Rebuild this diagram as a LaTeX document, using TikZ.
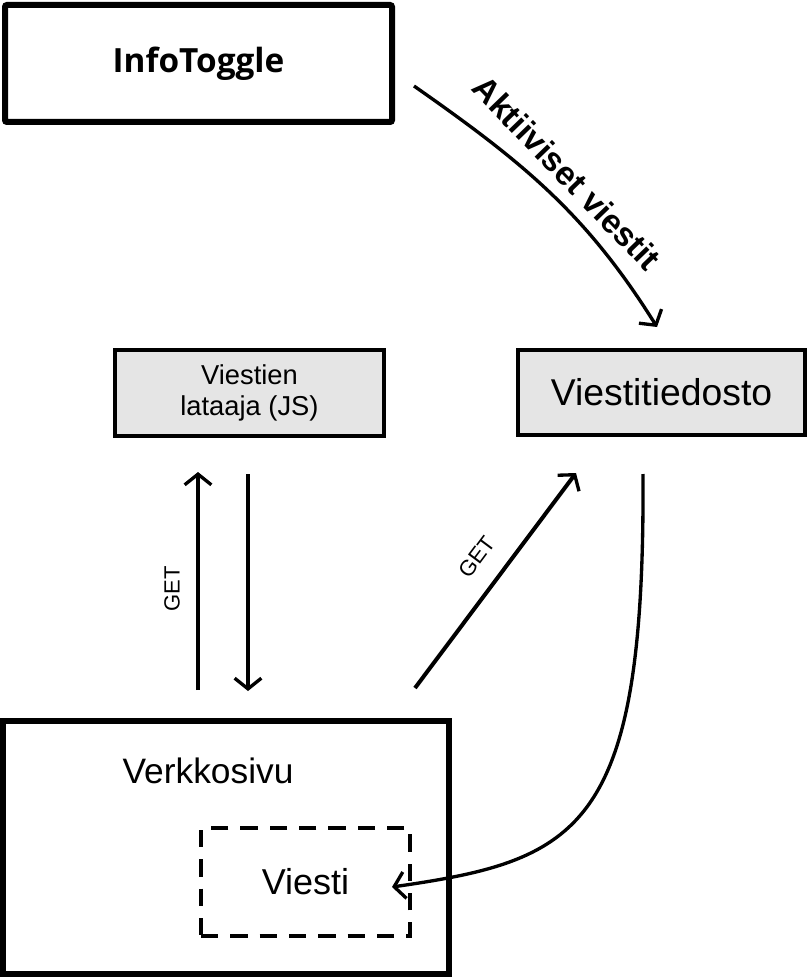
\documentclass[tikz,border=0pt]{standalone}
\usepackage{fontspec}
\setmainfont{Liberation Sans}
\newfontfamily\titlefont{Open Sans}
\usetikzlibrary{arrows.meta}
\tikzset{
  boxthick/.style={draw=black, line width=4.5pt, rounded corners=1.5pt, inner sep=0pt},
  boxgray/.style={draw=black, line width=3pt, fill=black!10, inner sep=0pt, align=center},
  dashbox/.style={draw=black, line width=3pt, dash pattern=on 13pt off 9pt, inner sep=0pt},
  conn/.style={line width=3pt, -{Straight Barb[length=8pt,width=20pt,line width=2.5pt]}},
  connthin/.style={line width=2.5pt, -{Straight Barb[length=8pt,width=20pt,line width=2.5pt]}},
  lbl/.style={font=\fontsize{16.5pt}{19pt}\selectfont, inner sep=0pt},
}
\begin{document}
\begin{tikzpicture}[x=0.75pt,y=-0.75pt]
\useasboundingbox (0,0) rectangle (808,980);
% boxes
\node[boxthick, minimum width=290.25pt, minimum height=87.75pt,
      font=\titlefont\bfseries\fontsize{25pt}{30pt}\selectfont] (info) at (198.5,63.5) {InfoToggle};
\node[boxgray, minimum width=201.75pt, minimum height=64.5pt,
      font=\fontsize{20.5pt}{23.25pt}\selectfont] (lataaja) at (249.5,393) {Viestien\\lataaja (JS)};
\node[boxgray, minimum width=215.25pt, minimum height=63.75pt,
      font=\fontsize{28pt}{32pt}\selectfont] (tiedosto) at (661.5,392.5) {Viestitiedosto};
\node[boxthick, rounded corners=0pt, minimum width=334.5pt, minimum height=189.75pt] (sivu) at (226,847.5) {};
\node[inner sep=0pt, font=\fontsize{26.5pt}{32pt}\selectfont] (sivulbl) at (208,771) {Verkkosivu};
\node[dashbox, minimum width=156.75pt, minimum height=81pt,
      font=\fontsize{27pt}{32pt}\selectfont] (viesti) at (305.5,882) {Viesti};
% connector end points
\coordinate (a1) at (414,86);
\coordinate (a2) at (657,327);
\coordinate (u1) at (198,690);
\coordinate (u2) at (198,472);
\coordinate (d1) at (248,474);
\coordinate (d2) at (248,691);
\coordinate (g1) at (415,688);
\coordinate (g2) at (576,473);
\coordinate (c1) at (643,474);
\coordinate (c2) at (392,887);
% connectors
\draw[connthin] (a1) to[out=-35,in=122] (a2);
\node[rotate=-46, inner sep=0pt, font=\bfseries\fontsize{25pt}{30pt}\selectfont] (aktlbl) at (567,173) {Aktiiviset viestit};
\draw[conn] (u1) -- (u2);
\draw[conn] (d1) -- (d2);
\node[lbl, rotate=90] (get1) at (172,589) {GET};
\draw[conn] (g1) -- (g2);
\node[lbl, rotate=53.3] (get2) at (477,557) {GET};
\draw[connthin] (c1) .. controls (645,830) and (580,860) .. (c2);
\end{tikzpicture}
\end{document}
